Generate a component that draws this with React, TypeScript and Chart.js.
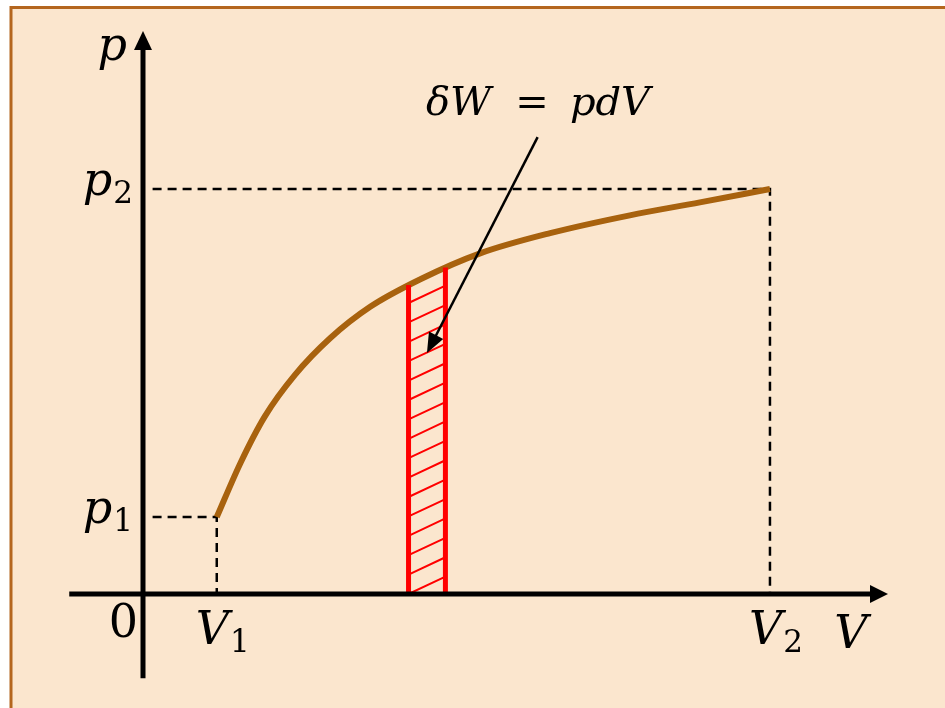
import React, { useEffect, useRef } from 'react';
import { Chart, registerables } from 'chart.js';

Chart.register(...registerables);

// Process curve p(V), sampled along the expansion from state 1 to state 2
const curveV = [1.0, 1.32, 1.65, 2.06, 2.54, 3.08, 3.76, 4.57, 5.52, 6.6, 7.55, 8.5];
const curveP = [1.9, 3.23, 4.38, 5.41, 6.32, 7.09, 7.77, 8.41, 8.91, 9.35, 9.67, 10.0];

// End states
const stateV = [1.0, 8.5]; // V1, V2
const stateP = [1.9, 10.0]; // p1, p2

// Elementary strip dV under the curve
const stripV = [3.6, 4.1];
const stripTopP = [7.63, 8.06];

// Tick labels: [main symbol, subscript]
const xTickLabels: [string, string][] = [['V', '1'], ['V', '2']];
const yTickLabels: [string, string][] = [['p', '1'], ['p', '2']];
const originLabel = '0';
const xAxisName = 'V';
const yAxisName = 'p';

// Axis extents (data units)
const xAxisRange = [-1.0, 10.1];
const yAxisRange = [-2.08, 13.9];

// Callout "δW = pdV" with its pointer
const calloutAnchor = { x: 5.355, y: 11.83 };
const pointerFrom = { x: 5.35, y: 11.28 };
const pointerTo = { x: 3.85, y: 5.95 };

const BG = '#FBE6CE';
const BORDER = '#B4661E';
const CURVE = '#A8620E';
const RED = '#FF0000';
const SERIF = '"DejaVu Serif", serif';

const pts = (xs: number[], ys: number[]) => xs.map((x, i) => ({ x, y: ys[i] }));

function drawSubscripted(
  ctx: CanvasRenderingContext2D,
  main: string,
  sub: string,
  x: number,
  baseline: number,
  align: 'left' | 'right' | 'center',
  mainSize = 46,
  subSize = 31
) {
  ctx.save();
  ctx.textAlign = 'left';
  ctx.textBaseline = 'alphabetic';
  const mainFont = `italic ${mainSize}px ${SERIF}`;
  const subFont = `${subSize}px ${SERIF}`;
  ctx.font = mainFont;
  const wMain = ctx.measureText(main).width;
  ctx.font = subFont;
  const wSub = sub ? ctx.measureText(sub).width : 0;
  const gap = sub ? 1 : 0;
  const total = wMain + gap + wSub;
  let left = x;
  if (align === 'right') left = x - total;
  if (align === 'center') left = x - total / 2;
  ctx.fillStyle = '#000';
  ctx.font = mainFont;
  ctx.fillText(main, left, baseline);
  if (sub) {
    ctx.font = subFont;
    ctx.fillText(sub, left + wMain + gap, baseline + 8);
  }
  ctx.restore();
}

const diagramPlugin = {
  id: 'pvDiagram',
  beforeDraw(chart: any) {
    const { ctx, width, height } = chart;
    ctx.save();
    ctx.fillStyle = '#ffffff';
    ctx.fillRect(0, 0, width, height);
    ctx.fillStyle = BG;
    ctx.fillRect(11, 7.5, width, height);
    ctx.strokeStyle = BORDER;
    ctx.lineWidth = 3;
    ctx.beginPath();
    ctx.moveTo(11, height + 5);
    ctx.lineTo(11, 7.5);
    ctx.lineTo(width + 5, 7.5);
    ctx.stroke();
    ctx.restore();
  },
  beforeDatasetsDraw(chart: any) {
    const { ctx } = chart;
    const xs = chart.scales.x;
    const ys = chart.scales.y;
    const xl = xs.getPixelForValue(stripV[0]);
    const xr = xs.getPixelForValue(stripV[1]);
    const yb = ys.getPixelForValue(0);
    const ytl = ys.getPixelForValue(stripTopP[0]);
    const ytr = ys.getPixelForValue(stripTopP[1]);
    // hatching of the strip, clipped to the area under the curve
    ctx.save();
    ctx.beginPath();
    ctx.moveTo(xl, yb);
    ctx.lineTo(xl, ytl);
    ctx.lineTo(xr, ytr);
    ctx.lineTo(xr, yb);
    ctx.closePath();
    ctx.clip();
    ctx.strokeStyle = RED;
    ctx.lineWidth = 2;
    const rise = (xr - xl) * 0.47;
    ctx.beginPath();
    for (let yy = yb + 19.4; yy > ytl - 60; yy -= 19.4) {
      ctx.moveTo(xl, yy);
      ctx.lineTo(xr, yy - rise);
    }
    ctx.stroke();
    ctx.restore();
  },
  afterDatasetsDraw(chart: any) {
    const { ctx } = chart;
    const xs = chart.scales.x;
    const ys = chart.scales.y;
    const x0 = xs.getPixelForValue(0);
    const y0 = ys.getPixelForValue(0);

    ctx.save();
    ctx.strokeStyle = '#000';
    ctx.fillStyle = '#000';
    ctx.lineWidth = 5;
    ctx.lineCap = 'butt';

    // horizontal axis with arrow head
    const xStart = xs.getPixelForValue(xAxisRange[0]);
    const xTip = xs.getPixelForValue(xAxisRange[1]);
    ctx.beginPath();
    ctx.moveTo(xStart, y0);
    ctx.lineTo(xTip - 14, y0);
    ctx.stroke();
    ctx.beginPath();
    ctx.moveTo(xTip, y0);
    ctx.lineTo(xTip - 18, y0 - 9);
    ctx.lineTo(xTip - 18, y0 + 9);
    ctx.closePath();
    ctx.fill();

    // vertical axis with arrow head
    const yStart = ys.getPixelForValue(yAxisRange[0]);
    const yTip = ys.getPixelForValue(yAxisRange[1]);
    ctx.beginPath();
    ctx.moveTo(x0, yStart);
    ctx.lineTo(x0, yTip + 14);
    ctx.stroke();
    ctx.beginPath();
    ctx.moveTo(x0, yTip);
    ctx.lineTo(x0 - 9, yTip + 19);
    ctx.lineTo(x0 + 9, yTip + 19);
    ctx.closePath();
    ctx.fill();

    // pointer arrow of the callout
    const ax = xs.getPixelForValue(pointerFrom.x);
    const ay = ys.getPixelForValue(pointerFrom.y);
    const bx = xs.getPixelForValue(pointerTo.x);
    const by = ys.getPixelForValue(pointerTo.y);
    const ang = Math.atan2(by - ay, bx - ax);
    const headLen = 20;
    const headHalf = 8;
    ctx.lineWidth = 2.5;
    ctx.beginPath();
    ctx.moveTo(ax, ay);
    ctx.lineTo(bx - Math.cos(ang) * (headLen - 2), by - Math.sin(ang) * (headLen - 2));
    ctx.stroke();
    ctx.beginPath();
    ctx.moveTo(bx, by);
    const hx = bx - Math.cos(ang) * headLen;
    const hy = by - Math.sin(ang) * headLen;
    ctx.lineTo(hx + Math.sin(ang) * headHalf, hy - Math.cos(ang) * headHalf);
    ctx.lineTo(hx - Math.sin(ang) * headHalf, hy + Math.cos(ang) * headHalf);
    ctx.closePath();
    ctx.fill();
    ctx.restore();

    // tick labels
    xTickLabels.forEach(([m, s], i) => {
      drawSubscripted(ctx, m, s, xs.getPixelForValue(stateV[i]) + 6, y0 + 50, 'center');
    });
    yTickLabels.forEach(([m, s], i) => {
      drawSubscripted(ctx, m, s, x0 - 10, ys.getPixelForValue(stateP[i]) + 6, 'right');
    });
    drawSubscripted(ctx, yAxisName, '', x0 - 16, yTip + 29, 'right');
    drawSubscripted(ctx, xAxisName, '', xTip - 37, y0 + 54, 'center');
    ctx.save();
    ctx.fillStyle = '#000';
    ctx.font = `46px ${SERIF}`;
    ctx.textAlign = 'right';
    ctx.textBaseline = 'alphabetic';
    ctx.fillText(originLabel, x0 - 5, y0 + 43);
    ctx.restore();

    // callout formula δW = pdV
    const cx = xs.getPixelForValue(calloutAnchor.x);
    const cy = ys.getPixelForValue(calloutAnchor.y);
    ctx.save();
    ctx.fillStyle = '#000';
    ctx.textBaseline = 'alphabetic';
    ctx.font = `italic 40px ${SERIF}`;
    ctx.textAlign = 'left';
    ctx.fillText('δW', cx - 112, cy);
    ctx.textAlign = 'right';
    ctx.fillText('pdV', cx + 112, cy);
    ctx.font = `40px ${SERIF}`;
    ctx.textAlign = 'center';
    ctx.fillText('=', cx - 6, cy);
    ctx.restore();
  },
};

export default function App() {
  const ref = useRef<HTMLCanvasElement>(null);

  useEffect(() => {
    const canvas = ref.current;
    if (!canvas) return;
    const chart = new Chart(canvas, {
      type: 'scatter',
      data: {
        datasets: [
          {
            label: 'strip left',
            data: [{ x: stripV[0], y: 0 }, { x: stripV[0], y: stripTopP[0] }],
            showLine: true,
            borderColor: RED,
            borderWidth: 5,
            pointRadius: 0,
            order: 0,
          },
          {
            label: 'strip right',
            data: [{ x: stripV[1], y: 0 }, { x: stripV[1], y: stripTopP[1] }],
            showLine: true,
            borderColor: RED,
            borderWidth: 5,
            pointRadius: 0,
            order: 0,
          },
          {
            label: 'p(V)',
            data: pts(curveV, curveP),
            showLine: true,
            borderColor: CURVE,
            borderWidth: 6,
            pointRadius: 0,
            cubicInterpolationMode: 'monotone',
            borderCapStyle: 'butt',
            order: 1,
          },
          {
            label: 'guide 1',
            data: [{ x: 0.13, y: stateP[0] }, { x: stateV[0], y: stateP[0] }, { x: stateV[0], y: 0 }],
            showLine: true,
            borderColor: '#000',
            borderWidth: 2.5,
            borderDash: [9, 6],
            pointRadius: 0,
            order: 2,
          },
          {
            label: 'guide 2',
            data: [{ x: 0.13, y: stateP[1] }, { x: stateV[1], y: stateP[1] }, { x: stateV[1], y: 0 }],
            showLine: true,
            borderColor: '#000',
            borderWidth: 2.5,
            borderDash: [9, 6],
            pointRadius: 0,
            order: 2,
          },
        ],
      },
      options: {
        responsive: false,
        animation: false,
        events: [],
        layout: { padding: { left: 143, right: 64.4, top: 27, bottom: 114 } },
        plugins: { legend: { display: false }, tooltip: { enabled: false } },
        scales: {
          x: { type: 'linear', min: 0, max: 10, display: false },
          y: { type: 'linear', min: 0, max: 14, display: false },
        },
      },
      plugins: [diagramPlugin],
    } as any);
    return () => chart.destroy();
  }, []);

  return (
    <div style={{ position: 'fixed', left: 0, top: 0, width: 945, height: 708 }}>
      <canvas ref={ref} width={945} height={708} style={{ display: 'block', width: 945, height: 708 }} />
    </div>
  );
}
